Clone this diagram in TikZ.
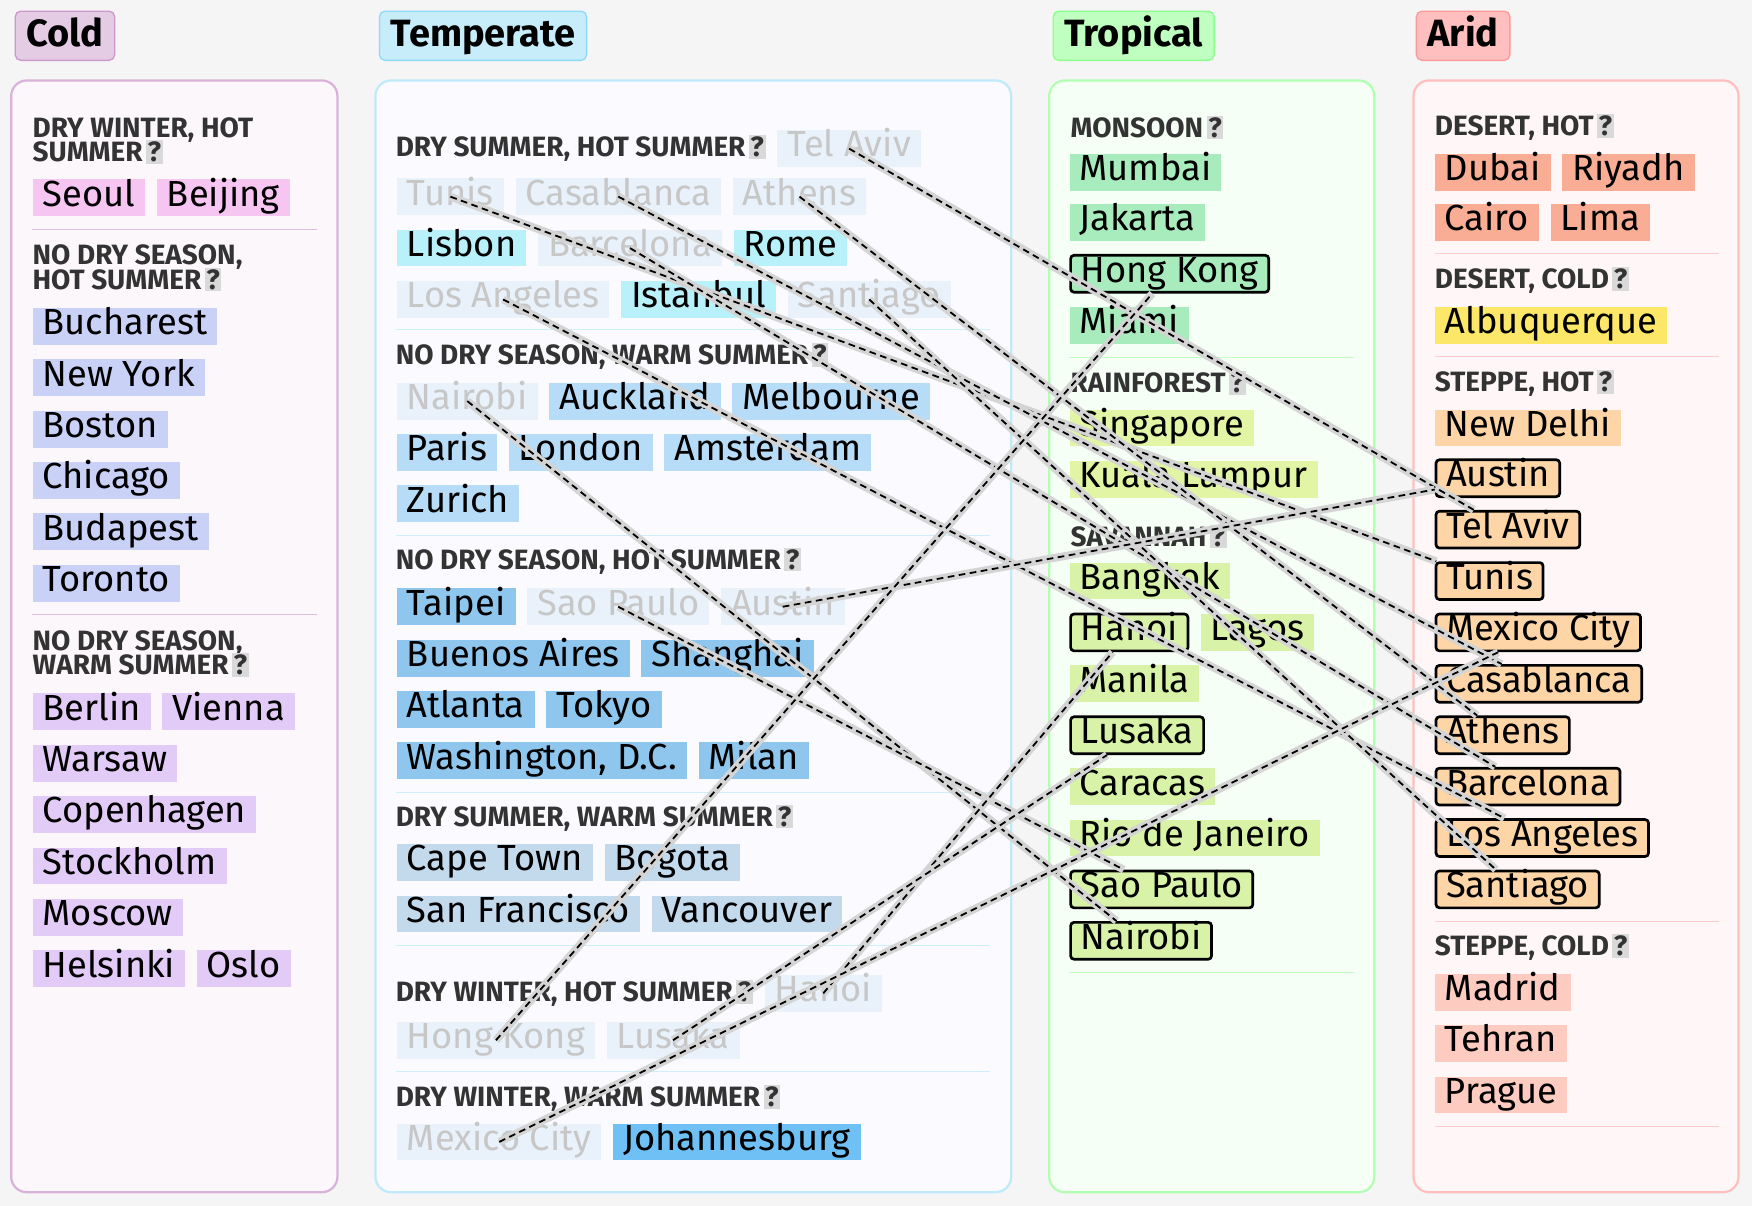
\documentclass[tikz,border=0pt]{standalone}
\usepackage{fontspec}
\setmainfont{Fira Sans}
\usetikzlibrary{positioning}
\definecolor{qgray}{HTML}{D9D9D9}
\newcommand{\qmk}{\hspace{3pt}{\setlength\fboxsep{1.5pt}\colorbox{qgray}{\textcolor{black!80}{?}}}}
\tikzset{
 city/.style={anchor=west,inner xsep=9pt,inner ysep=0pt,minimum height=33pt,text height=22pt,text depth=7pt,font=\fontsize{32.5}{34}\selectfont},
 faded/.style={city,fill=#1,text=black!22},
 hl/.style={city,fill=#1,draw=black,line width=2.4pt,rounded corners=3pt},
 head/.style={anchor=west,inner sep=0pt,align=left,font=\fontsize{25}{25}\selectfont\bfseries,text=black!80},
 hdr/.style={anchor=west,fill=#1,line width=1.2pt,rounded corners=5pt,font=\fontsize{34}{36}\selectfont\bfseries,minimum height=44pt,inner xsep=10pt,text height=24pt,text depth=5pt},
 panel/.style={rounded corners=14pt,line width=2pt},
 sep/.style={line width=1pt},
 link/.style={dash pattern=on 6pt off 4pt,line width=1.6pt},
 under/.style={line width=7pt,black!17},
 nx/.style={right=10pt of #1}
}
\definecolor{cSeoul}{HTML}{F6C5F2}
\definecolor{cBuch}{HTML}{C9D1F7}
\definecolor{cBerlin}{HTML}{E3CBF7}
\definecolor{cLisbon}{HTML}{B8F1FA}
\definecolor{cAuck}{HTML}{B7DCF8}
\definecolor{cTaipei}{HTML}{8FC6EE}
\definecolor{cCape}{HTML}{C3D9EC}
\definecolor{cJoh}{HTML}{6FC0F4}
\definecolor{fd}{HTML}{E9F2FA}
\definecolor{mg}{HTML}{A8ECBD}
\definecolor{rf}{HTML}{E1F5A4}
\definecolor{sv}{HTML}{D8F3A8}
\definecolor{dh}{HTML}{F9AD95}
\definecolor{cAlb}{HTML}{FDE768}
\definecolor{sh}{HTML}{FDD5A6}
\definecolor{sc}{HTML}{FDCBC0}
\begin{document}
\begin{tikzpicture}[x=1pt,y=-1pt]
\fill[white!96!black] (0,0) rectangle (1568,1079);
\useasboundingbox (0,0) rectangle (1568,1079);
% panels
\draw[panel,draw=violet!30,fill=violet!3] (10,72) rectangle (302,1067);
\draw[panel,draw=cyan!25,fill=blue!2] (336,72) rectangle (905,1067);
\draw[panel,draw=green!30,fill=green!4] (939,72) rectangle (1230,1067);
\draw[panel,draw=red!25,fill=red!3] (1265,72) rectangle (1556,1067);
% headers
\node[hdr=violet!20,draw=violet!40] (hCold) at (13,32) {Cold};
\node[hdr=cyan!22,draw=cyan!45] (hTemp) at (339,32) {Temperate};
\node[hdr=green!25,draw=green!45] (hTrop) at (942,32) {Tropical};
\node[hdr=red!25,draw=red!40] (hArid) at (1267,32) {Arid};
% ---------- Cold
\node[head] (c1) at (29,126) {DRY WINTER, HOT\\[-3pt]SUMMER\qmk};
\node[city,fill=cSeoul] (Seoul) at (29,177) {Seoul};
\node[city,fill=cSeoul,nx=Seoul] (Beijing) {Beijing};
\draw[sep,violet!25] (29,205) -- (284,205);
\node[head] (c2) at (29,240) {NO DRY SEASON,\\[-3pt]HOT SUMMER\qmk};
\foreach \n/\y in {Bucharest/292,New York/338,Boston/384,Chicago/430,Budapest/476,Toronto/522}
  \node[city,fill=cBuch] (c\n) at (29,\y) {\n};
\draw[sep,violet!25] (29,550) -- (284,550);
\node[head] (c3) at (29,585) {NO DRY SEASON,\\[-3pt]WARM SUMMER\qmk};
\foreach \n/\y in {Berlin/637,Warsaw/683,Copenhagen/729,Stockholm/775,Moscow/821,Helsinki/867}
  \node[city,fill=cBerlin] (c\n) at (29,\y) {\n};
\node[city,fill=cBerlin,nx=cBerlin] (cVienna) {Vienna};
\node[city,fill=cBerlin,nx=cHelsinki] (cOslo) {Oslo};
% ---------- Temperate
\node[head] (t1) at (354,133) {DRY SUMMER, HOT SUMMER\qmk};
\node[faded=fd,nx=t1] (tTelAviv) {Tel Aviv};
\node[faded=fd] (tTunis) at (355,176) {Tunis};
\node[faded=fd,nx=tTunis] (tCasablanca) {Casablanca};
\node[faded=fd,nx=tCasablanca] (tAthens) {Athens};
\node[city,fill=cLisbon] (tLisbon) at (355,222) {Lisbon};
\node[faded=fd,nx=tLisbon] (tBarcelona) {Barcelona};
\node[city,fill=cLisbon,nx=tBarcelona] (tRome) {Rome};
\node[faded=fd] (tLosAngeles) at (355,268) {Los Angeles};
\node[city,fill=cLisbon,nx=tLosAngeles] (tIstanbul) {Istanbul};
\node[faded=fd,nx=tIstanbul] (tSantiago) {Santiago};
\draw[sep,cyan!20] (354,295) -- (886,295);
\node[head] (t2) at (354,319) {NO DRY SEASON, WARM SUMMER\qmk};
\node[faded=fd] (tNairobi) at (355,359) {Nairobi};
\node[city,fill=cAuck,nx=tNairobi] (tAuckland) {Auckland};
\node[city,fill=cAuck,nx=tAuckland] (tMelbourne) {Melbourne};
\node[city,fill=cAuck] (tParis) at (355,405) {Paris};
\node[city,fill=cAuck,nx=tParis] (tLondon) {London};
\node[city,fill=cAuck,nx=tLondon] (tAmsterdam) {Amsterdam};
\node[city,fill=cAuck] (tZurich) at (355,451) {Zurich};
\draw[sep,cyan!20] (354,479) -- (886,479);
\node[head] (t3) at (354,502) {NO DRY SEASON, HOT SUMMER\qmk};
\node[city,fill=cTaipei] (tTaipei) at (355,543) {Taipei};
\node[faded=fd,nx=tTaipei] (tSaoPaulo) {Sao Paulo};
\node[faded=fd,nx=tSaoPaulo] (tAustin) {Austin};
\node[city,fill=cTaipei] (tBuenosAires) at (355,589) {Buenos Aires};
\node[city,fill=cTaipei,nx=tBuenosAires] (tShanghai) {Shanghai};
\node[city,fill=cTaipei] (tAtlanta) at (355,635) {Atlanta};
\node[city,fill=cTaipei,nx=tAtlanta] (tTokyo) {Tokyo};
\node[city,fill=cTaipei] (tWashington) at (355,681) {Washington, D.C.};
\node[city,fill=cTaipei,nx=tWashington] (tMilan) {Milan};
\draw[sep,cyan!20] (354,709) -- (886,709);
\node[head] (t4) at (354,732) {DRY SUMMER, WARM SUMMER\qmk};
\node[city,fill=cCape] (tCapeTown) at (355,772) {Cape Town};
\node[city,fill=cCape,nx=tCapeTown] (tBogota) {Bogota};
\node[city,fill=cCape] (tSanFrancisco) at (355,818) {San Francisco};
\node[city,fill=cCape,nx=tSanFrancisco] (tVancouver) {Vancouver};
\draw[sep,cyan!20] (354,846) -- (886,846);
\node[head] (t5) at (354,889) {DRY WINTER, HOT SUMMER\qmk};
\node[faded=fd,nx=t5] (tHanoi) {Hanoi};
\node[faded=fd] (tHongKong) at (355,931) {Hong Kong};
\node[faded=fd,nx=tHongKong] (tLusaka) {Lusaka};
\draw[sep,cyan!20] (354,959) -- (886,959);
\node[head] (t6) at (354,983) {DRY WINTER, WARM SUMMER\qmk};
\node[faded=fd] (tMexicoCity) at (355,1022) {Mexico City};
\node[city,fill=cJoh,nx=tMexicoCity] (tJohannesburg) {Johannesburg};
% ---------- Tropical
\node[head] (r1) at (958,114) {MONSOON\qmk};
\node[city,fill=mg] (rMumbai) at (957,154) {Mumbai};
\node[city,fill=mg] (rJakarta) at (957,199) {Jakarta};
\node[hl=mg] (rHongKong) at (957,245) {Hong Kong};
\node[city,fill=mg] (rMiami) at (957,291) {Miami};
\draw[sep,green!25] (957,320) -- (1212,320);
\node[head] (r2) at (958,343) {RAINFOREST\qmk};
\node[city,fill=rf] (rSingapore) at (957,383) {Singapore};
\node[city,fill=rf] (rKuala) at (957,429) {Kuala Lumpur};
\node[head] (r3) at (958,480) {SAVANNAH\qmk};
\node[city,fill=sv] (rBangkok) at (957,520) {Bangkok};
\node[hl=sv] (rHanoi) at (957,566) {Hanoi};
\node[city,fill=sv,nx=rHanoi] (rLagos) {Lagos};
\node[city,fill=sv] (rManila) at (957,612) {Manila};
\node[hl=sv] (rLusaka) at (957,658) {Lusaka};
\node[city,fill=sv] (rCaracas) at (957,704) {Caracas};
\node[city,fill=sv] (rRio) at (957,750) {Rio de Janeiro};
\node[hl=sv] (rSaoPaulo) at (957,796) {Sao Paulo};
\node[hl=sv] (rNairobi) at (957,842) {Nairobi};
\draw[sep,green!25] (957,870) -- (1212,870);
% ---------- Arid
\node[head] (a1) at (1284,114) {DESERT, HOT\qmk};
\node[city,fill=dh] (aDubai) at (1284,154) {Dubai};
\node[city,fill=dh,nx=aDubai] (aRiyadh) {Riyadh};
\node[city,fill=dh] (aCairo) at (1284,199) {Cairo};
\node[city,fill=dh,nx=aCairo] (aLima) {Lima};
\draw[sep,red!20] (1284,227) -- (1538,227);
\node[head] (a2) at (1284,251) {DESERT, COLD\qmk};
\node[city,fill=cAlb] (aAlbuquerque) at (1284,291) {Albuquerque};
\draw[sep,red!20] (1284,319) -- (1538,319);
\node[head] (a3) at (1284,343) {STEPPE, HOT\qmk};
\node[city,fill=sh] (aNewDelhi) at (1284,383) {New Delhi};
\foreach \n/\l/\y in {Austin/Austin/428,TelAviv/Tel Aviv/474,Tunis/Tunis/520,MexicoCity/Mexico City/566,Casablanca/Casablanca/612,Athens/Athens/658,Barcelona/Barcelona/704,LosAngeles/Los Angeles/750,Santiago/Santiago/796}
  \node[hl=sh] (a\n) at (1284,\y) {\l};
\draw[sep,red!20] (1284,825) -- (1538,825);
\node[head] (a4) at (1284,848) {STEPPE, COLD\qmk};
\node[city,fill=sc] (aMadrid) at (1284,888) {Madrid};
\node[city,fill=sc] (aTehran) at (1284,934) {Tehran};
\node[city,fill=sc] (aPrague) at (1284,980) {Prague};
\draw[sep,red!20] (1284,1008) -- (1538,1008);
% ---------- links
\foreach \s/\t in {tTelAviv/aTelAviv,tTunis/aTunis,tCasablanca/aCasablanca,tAthens/aAthens,tBarcelona/aBarcelona,tLosAngeles/aLosAngeles,tSantiago/aSantiago,tNairobi/rNairobi,tSaoPaulo/rSaoPaulo,tAustin/aAustin,tHanoi/rHanoi,tHongKong/rHongKong,tLusaka/rLusaka,tMexicoCity/aMexicoCity}{
  \draw[under] (\s.center) -- (\t);
  \draw[link] (\s.center) -- (\t);
}
\end{tikzpicture}
\end{document}
